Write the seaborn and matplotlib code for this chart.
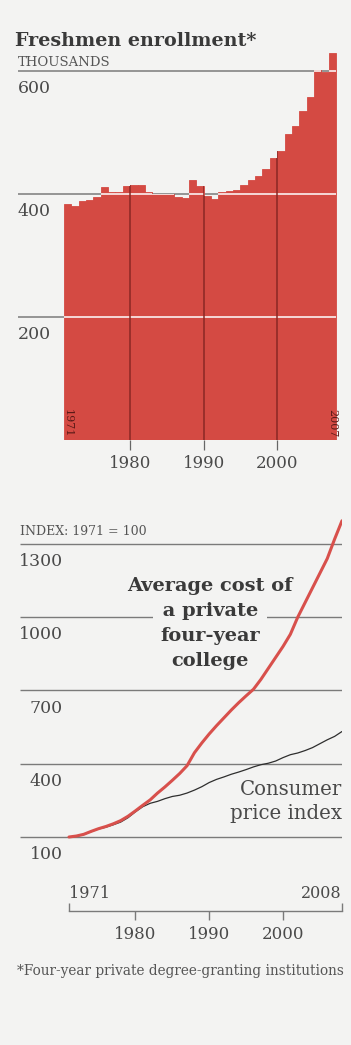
import numpy as np
import pandas as pd
import matplotlib
matplotlib.use("Agg")
import matplotlib.pyplot as plt
import seaborn as sns
from matplotlib.path import Path
from matplotlib.transforms import blended_transform_factory

# ---------------- data ----------------
enroll_years = list(range(1971, 2008))
enrollment = [384, 381, 388, 390, 395, 411, 403, 403, 413, 415,
              415, 403, 400, 400, 400, 395, 393, 423, 413, 397,
              392, 403, 405, 406, 414, 422, 430, 441, 458, 470,
              497, 511, 535, 557, 601, 598, 630]
enroll_ticks = [200, 400, 600]
enroll_xticks = [1980, 1990, 2000]

index_years = list(range(1971, 2009))
college_cost = [100, 104, 111, 123, 134, 143, 154, 167, 185, 207,
                230, 252, 280, 305, 332, 360, 392, 445, 485, 522,
                556, 588, 620, 650, 678, 705, 745, 790, 835, 880,
                930, 1000, 1060, 1120, 1180, 1240, 1320, 1395]
cpi = [100, 103, 110, 122, 133, 140, 150, 161, 179, 203,
       224, 238, 246, 257, 266, 271, 280, 292, 306, 323,
       336, 346, 357, 366, 376, 387, 396, 402, 411, 425,
       437, 444, 454, 466, 482, 498, 512, 532]
index_ticks = [100, 400, 700, 1000, 1300]
index_xticks = [1980, 1990, 2000]

# ---------------- style ----------------
BG = "#f3f3f2"
RED = "#d44a43"
DARKRED = "#8a2824"
GRID = "#7a7a7a"
TXT = "#4a4a4a"

sns.set_theme(style="white")
plt.rcParams["font.family"] = ["DejaVu Serif"]
plt.rcParams["axes.facecolor"] = BG
plt.rcParams["figure.facecolor"] = BG

W, H = 351, 1045
fig = plt.figure(figsize=(W / 100, H / 100), dpi=100)
fig.patch.set_facecolor(BG)


def box(l, t, r, b):
    return [l / W, 1 - b / H, (r - l) / W, (b - t) / H]


def fit(t, target_px):
    fig.canvas.draw()
    w = t.get_window_extent(fig.canvas.get_renderer()).width
    t.set_fontsize(t.get_fontsize() * target_px / w)
    return t.get_fontsize()


# ---------------- top chart: enrollment ----------------
ax1 = fig.add_axes(box(18, 45, 342, 440))
ax1.set_facecolor(BG)
df1 = pd.DataFrame({"year": enroll_years, "enrollment": enrollment})
df1["center"] = df1["year"] + 0.5
sns.barplot(data=df1, x="center", y="enrollment", native_scale=True, width=1.0,
            color=RED, saturation=1, linewidth=0.6, edgecolor=RED, ax=ax1, zorder=2)
x_left1 = 1971 - 46 / 7.351
ax1.set_xlim(x_left1, 2008 + 6 / 7.351)
ax1.set_ylim(0, 395 / 0.615)

bar_paths = [p.get_path().transformed(p.get_patch_transform()) for p in ax1.patches]
bars_clip = Path.make_compound_path(*bar_paths)

for v in enroll_ticks:
    ax1.hlines(v, x_left1, 2008, color=GRID, lw=1.1, zorder=1)
    wl = ax1.hlines(v, 1971, 2008, color="white", lw=1.1, zorder=3)
    wl.set_clip_path(bars_clip, ax1.transData)
    ax1.annotate(str(v), xy=(0, v), xycoords=blended_transform_factory(ax1.transAxes, ax1.transData),
                 xytext=(0, -15.5), textcoords="offset points", ha="left", va="baseline",
                 fontsize=12.5, color=TXT)

vl = ax1.vlines(enroll_xticks, 0, 700, color=DARKRED, lw=1.1, zorder=3)
vl.set_clip_path(bars_clip, ax1.transData)

ax1.set_xticks(enroll_xticks)
ax1.set_xticklabels([str(x) for x in enroll_xticks])
ax1.set_yticks([])
ax1.tick_params(axis="x", direction="out", length=7, width=0.9, color="#666666",
                labelsize=12, labelcolor=TXT, pad=4, bottom=True)
for s in ax1.spines.values():
    s.set_visible(False)
ax1.set_xlabel("")
ax1.set_ylabel("")

ax1.text(enroll_years[0] + 0.5, 5, str(enroll_years[0]), rotation=-90, ha="center", va="bottom",
         fontsize=8, color="#5a1a17", zorder=4)
ax1.text(enroll_years[-1] + 0.5, 5, str(enroll_years[-1]), rotation=-90, ha="center", va="bottom",
         fontsize=8, color="#5a1a17", zorder=4)

t_title = fig.text(15 / W, 1 - 46 / H, "Freshmen enrollment*", fontsize=13, fontweight="bold",
                   color="#3a3a3a", ha="left", va="baseline")
fig.text(18 / W, 1 - 66.5 / H, "THOUSANDS", fontsize=9.5, color="#555555", ha="left", va="baseline")

# ---------------- bottom chart: cost index ----------------
ax2 = fig.add_axes(box(18, 515, 342, 860))
ax2.set_facecolor(BG)
df2 = pd.DataFrame({"year": index_years, "Average cost": college_cost, "CPI": cpi})
x_left2 = 1971 - 51 / 7.378
ax2.set_xlim(x_left2, 2008)
ax2.set_ylim(100 - 23 / 0.2442, 100 + 322 / 0.2442)

for v in index_ticks:
    ax2.hlines(v, x_left2 + 2 / 7.378, 2008, color=GRID, lw=1.0, zorder=1)
    ax2.annotate(str(v), xy=(0, v), xycoords=blended_transform_factory(ax2.transAxes, ax2.transData),
                 xytext=(32.4, -16), textcoords="offset points", ha="right", va="baseline",
                 fontsize=12.5, color=TXT)

sns.lineplot(data=df2, x="year", y="CPI", color="#2e2e2e", lw=0.9, ax=ax2, zorder=4)
sns.lineplot(data=df2, x="year", y="Average cost", color="#d8504c", lw=2.2, ax=ax2, zorder=5)

ax2.set_xlabel("")
ax2.set_ylabel("")
ax2.set_yticks([])
for k in ["top", "right", "left"]:
    ax2.spines[k].set_visible(False)
ax2.spines["bottom"].set_position(("outward", 36.7))
ax2.spines["bottom"].set_bounds(index_years[0], index_years[-1])
ax2.spines["bottom"].set_color(GRID)
ax2.spines["bottom"].set_linewidth(1.0)
ax2.set_xticks(index_xticks)
ax2.set_xticklabels([str(x) for x in index_xticks])
ax2.set_xticks([index_years[0], index_years[-1]], minor=True)
ax2.tick_params(axis="x", which="major", direction="out", length=6.5, width=1.0, color=GRID,
                labelsize=12, labelcolor=TXT, pad=4, bottom=True)
ax2.tick_params(axis="x", which="minor", direction="in", length=6, width=1.0, color=GRID, bottom=True)

yr_tr = blended_transform_factory(ax2.transData, fig.transFigure)
ax2.text(index_years[0], 1 - 898 / H, str(index_years[0]), transform=yr_tr, ha="left",
         va="baseline", fontsize=11.5, color=TXT)
ax2.text(index_years[-1], 1 - 898 / H, str(index_years[-1]), transform=yr_tr, ha="right",
         va="baseline", fontsize=11.5, color=TXT)

fig.text(20 / W, 1 - 535 / H, "INDEX: 1971 = 100", fontsize=9, color="#555555",
         ha="left", va="baseline")

# annotation: average cost
cost_lines = ["Average cost of", "a private", "four-year", "college"]
cost_texts = []
for i, line in enumerate(cost_lines):
    kw = {}
    if i == 1:
        kw["bbox"] = dict(boxstyle="square,pad=0.15", facecolor=BG, edgecolor="none")
        line = " " + line + " "
    t = fig.text(210 / W, 1 - (591 + 25 * i) / H, line, fontsize=11.5, fontweight="bold",
                 color="#3a3a3a", ha="center", va="baseline", zorder=2, **kw)
    cost_texts.append(t)
fs = fit(cost_texts[0], 166)
for t in cost_texts[1:]:
    t.set_fontsize(fs)

cpi_lines = ["Consumer", "price index"]
cpi_texts = []
for i, line in enumerate(cpi_lines):
    cpi_texts.append(fig.text(342 / W, 1 - (795 + 24 * i) / H, line, fontsize=12.5, color=TXT,
                              ha="right", va="baseline"))
fs = fit(cpi_texts[1], 112)
cpi_texts[0].set_fontsize(fs)

t_foot = fig.text(17 / W, 1 - 975 / H, "*Four-year private degree-granting institutions",
                  fontsize=7.5, color="#555555", ha="left", va="baseline")

fit(t_title, 242)
fit(t_foot, 325)

fig.savefig("out.png", dpi=100, facecolor=BG)
